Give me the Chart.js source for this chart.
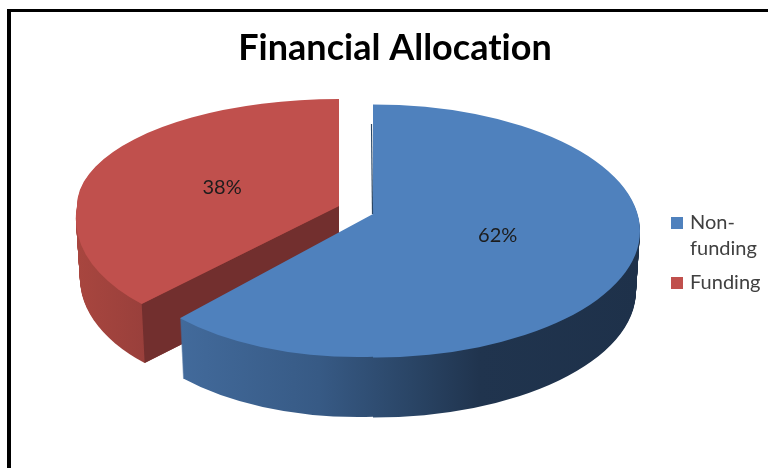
<!DOCTYPE html>
<html><head><meta charset="utf-8">
<style>
html,body{margin:0;padding:0;background:#fff;overflow:hidden}
#w{position:relative;width:768px;height:468px}
#b{position:absolute;left:7px;top:9px;width:761px;height:459px;border-top:3px solid #000;border-left:4px solid #000;box-sizing:border-box}
canvas{position:absolute;left:0;top:0}
</style>
<script src="https://cdn.jsdelivr.net/npm/chart.js@4"></script>
</head><body><div id="w"><div id="b"></div><canvas id="c" width="768" height="468"></canvas></div>
<script>
const chartTitle = 'Financial Allocation';
const categories = ['Non-funding', 'Funding'];
const legendLines = [['Non-', 'funding'], ['Funding']];
const shareValues = [62, 38];
const sliceColors = ['#4F81BD', '#C0504D'];

// projection of each slice: affine pieces of the tilted disc, extrusion, wall shading, label anchor
const views = [
  { depth:60, x0:181, x1:640,
    wall:[[0,'#426A9B'],[0.3,'#375A85'],[0.5,'#2A4566'],[0.65,'#20344E'],[1,'#1E314A']],
    pieces:[
      {clip:[373,0,395,600], cx:373, cy:231, R:267, k:0.474, s:0, splitX:true},
      {clip:[0,214,373,400], cx:373, cy:214, R:266, k:0.5376, s:-0.057}
    ],
    label:{cx:374, cy:214, R:266, k:0.45, f:0.5} },
  { depth:59, x0:77, x1:150, cut:'#722F2E',
    wall:[[0,'#A8463F'],[1,'#983F3B']],
    pieces:[
      {clip:[0,0,768,206], cx:339, cy:206, R:262, k:0.408, s:0},
      {clip:[0,206,768,400], cx:339, cy:206, R:262, k:0.513, s:-0.094}
    ],
    label:{cx:339, cy:206, R:262, k:0.408, f:0.48} }
];

function place(ctx, el, p, dy, xs){
  const sc = p.R / el.outerRadius;
  ctx.transform(sc*xs, 0, sc*xs*p.s, sc*p.k,
    p.cx - sc*xs*el.x - sc*xs*p.s*el.y,
    p.cy + dy - sc*p.k*el.y);
}
function eachPiece(ctx, v, dy, fn){
  v.pieces.forEach(p => {
    ctx.save();
    ctx.beginPath();
    // horizontal splits travel with the extrusion; vertical splits stay put
    const yTop = p.clip[1] === 0 ? 0 : p.clip[1] + dy;
    const h = p.clip[1] === 0 && !p.splitX ? p.clip[3] + dy : p.clip[3];
    ctx.rect(p.clip[0], yTop, p.clip[2], h);
    ctx.clip();
    fn(p);
    ctx.restore();
  });
}
function rim(p, ang, dy, xs){
  const ux = Math.cos(ang)*p.R, uy = Math.sin(ang)*p.R;
  return [p.cx + xs*(ux + p.s*uy), p.cy + dy + p.k*uy];
}

const pie3d = {
  id:'pie3d',
  beforeDraw(chart){
    // plain glyphs as in the reference, no "ti" ligature
    chart.ctx.letterSpacing = '0.01px';
  },
  beforeDatasetDraw(chart, args){
    const ctx = chart.ctx;
    const arcs = args.meta.data;
    [1, 0].forEach(i => {
      const el = arcs[i], v = views[i];
      const g = ctx.createLinearGradient(v.x0, 0, v.x1, 0);
      v.wall.forEach(([p, c]) => g.addColorStop(p, c));
      for (let d = v.depth; d >= 1; d--) {
        const xs = 1 - 0.015*d/v.depth;
        eachPiece(ctx, v, d, p => {
          ctx.save();
          place(ctx, el, p, d, xs);
          ctx.beginPath();
          ctx.moveTo(el.x, el.y);
          ctx.arc(el.x, el.y, el.outerRadius, el.startAngle, el.endAngle);
          ctx.closePath();
          ctx.restore();
          ctx.fillStyle = g;
          ctx.fill();
        });
      }
      if (v.cut) {
        const p = v.pieces[1];
        const a = rim(p, el.startAngle, 0, 1);
        const b = rim(p, el.startAngle, v.depth, 1 - 0.015);
        ctx.fillStyle = v.cut;
        ctx.beginPath();
        ctx.moveTo(p.cx, p.cy);
        ctx.lineTo(a[0], a[1]);
        ctx.lineTo(b[0], b[1]);
        ctx.lineTo(p.cx, p.cy + v.depth);
        ctx.closePath();
        ctx.fill();
      }
      eachPiece(ctx, v, 0, p => {
        ctx.save();
        place(ctx, el, p, 0, 1);
        el.draw(ctx);
        ctx.restore();
      });
      if (i === 0) {
        const p = v.pieces[1];
        const top = rim(p, el.startAngle, 0, 1);
        ctx.strokeStyle = '#2A4766';
        ctx.lineWidth = 1.2;
        ctx.beginPath();
        ctx.moveTo(p.cx - 0.5, p.cy);
        ctx.lineTo(p.cx - 1.5, p.cy - 90);
        ctx.stroke();
      }
    });
    return false;
  },
  afterDatasetsDraw(chart){
    const ctx = chart.ctx;
    const arcs = chart.getDatasetMeta(0).data;
    const total = shareValues.reduce((a, b) => a + b, 0);
    ctx.save();
    ctx.textAlign = 'center'; ctx.textBaseline = 'middle';
    ctx.font = '20px Lato'; ctx.fillStyle = '#1c1c1c';
    arcs.forEach((el, i) => {
      const l = views[i].label, mid = (el.startAngle + el.endAngle)/2;
      ctx.fillText(Math.round(shareValues[i]/total*100) + '%',
        l.cx + Math.cos(mid)*l.R*l.f, l.cy + Math.sin(mid)*l.R*l.f*l.k);
    });
    ctx.textAlign = 'left'; ctx.textBaseline = 'alphabetic';
    let y = 229;
    legendLines.forEach((lines, i) => {
      ctx.fillStyle = sliceColors[i];
      ctx.fillRect(671, y - 12, 12, 12);
      ctx.fillStyle = '#404040';
      lines.forEach((t, j) => { ctx.fillText(t, 690, y + j*26); });
      y += lines.length === 2 ? 60 : 26;
    });
    ctx.restore();
  }
};

new Chart(document.getElementById('c'), {
  type:'pie',
  data:{labels:categories, datasets:[{data:shareValues, backgroundColor:sliceColors, borderWidth:0}]},
  options:{
    responsive:false, animation:false, rotation:0,
    layout:{padding:{left:22, top:27}},
    plugins:{
      legend:{display:false}, tooltip:{enabled:false},
      title:{display:true, text:chartTitle, color:'#000', padding:0,
             font:{family:'Lato', size:36, weight:'bold'}}
    }
  },
  plugins:[pie3d]
});
</script></body></html>
